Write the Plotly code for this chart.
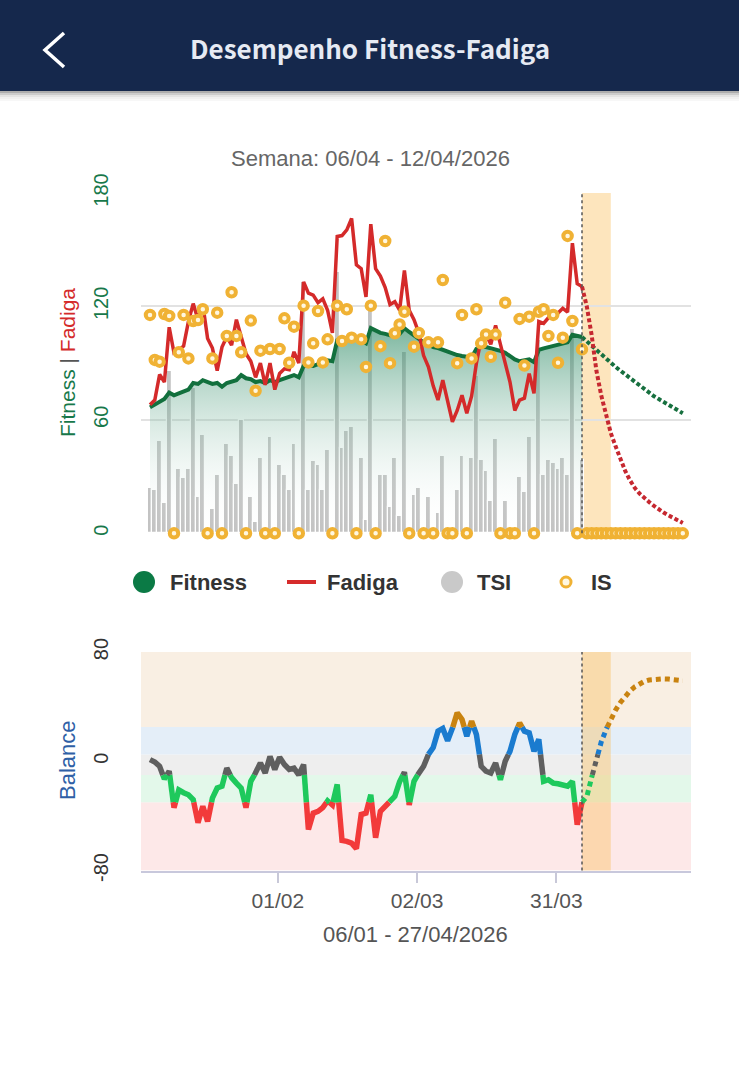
import pandas as pd
import plotly.graph_objects as go

W, H = 739, 1068


def px(x):
    return x / W


def py(y):
    return 1 - y / H


# ---------------- data ----------------
START = "2026-01-06"          # first day of the series (d0)
TODAY = "2026-04-06"          # last measured day / start of projection
WEEK_END = "2026-04-12"
RANGE_X = ["2026-01-04 03:00", "2026-04-28 17:00"]

tsi = [24, 23, 49, 16, 86, 0, 34, 29, 34, 77,
       19, 52, 0, 13, 31, 0, 47, 41, 26, 60,
       0, 19, 6, 40, 0, 51, 0, 36, 31, 23,
       47, 0, 133, 23, 38, 36, 23, 44, 0, 138,
       45, 54, 56, 0, 40, 7, 122, 0, 31, 31,
       14, 40, 9, 96, 0, 20, 24, 0, 19, 0,
       11, 41, 0, 0, 23, 41, 0, 40, 83, 39,
       33, 17, 50, 0, 17, 0, 0, 30, 22, 51,
       0, 102, 31, 39, 37, 34, 40, 31, 108, 0,
       39]

is_vals = [115.5, 91.7, 90.8, 116, 115, 0, 95.7, 115.5, 92.5, 112.3,
           112.8, 118.5, 0, 92.5, 116.7, 0, 104.4, 127.5, 104.4, 95.7,
           0, 112.5, 75.4, 96.6, 0, 97.5, 0, 97.5, 113.7, 90.2,
           109.3, 0, 120.4, 90.4, 100.5, 117.6, 90.4, 102.6, 0, 120.4,
           101.7, 118.5, 103.5, 0, 102.6, 88, 120.4, 0, 99, 154.6,
           90, 105.8, 110.5, 117.2, 0, 98.7, 106, 0, 101, 0,
           101, 134, 0, 0, 90, 115.5, 0, 92.5, 118.5, 100.5,
           105.2, 93.4, 105.2, 0, 122, 0, 0, 113.4, 88.7, 114.6,
           0, 117.2, 118.5, 104.4, 115.5, 90.2, 103.5, 157.3, 112.3, 0,
           97.3]

fitness = [66.6, 68, 69.5, 71, 74.4, 73, 74, 75, 76, 79.5,
           79, 81, 79.7, 79, 79.5, 77.5, 79.5, 80.5, 81, 83.7,
           82, 81.5, 80, 80.5, 79.5, 81, 80, 81, 82, 82.5,
           83.7, 82.5, 88.5, 89, 88.5, 89.5, 90, 91.5, 91, 102,
           102.5, 103.5, 105, 103.5, 101.5, 100.5, 108.5, 107, 106, 105.5,
           105, 104, 105.5, 108.5, 106.5, 104.5, 103, 101, 100, 98.5,
           98, 97, 96, 95, 94.3, 93.8, 93.4, 93, 97.5, 98.5,
           98.5, 98, 97.5, 96.5, 95.5, 93.5, 92, 91, 91.5, 92,
           90.5, 97, 97.8, 98.5, 99, 99.5, 100.2, 101, 105, 104.2,
           103.8]

fadiga = [68, 70.5, 84, 80, 109, 95.5, 97, 99, 112, 121.5,
          113, 121, 103, 98, 86, 98.5, 104, 99.5, 113, 104,
          95, 91, 82.5, 90, 78.5, 90, 76, 84.5, 87, 86.5,
          96, 90, 133, 127, 126, 122, 124, 118, 106, 157,
          157.5, 160.5, 166.5, 142, 140, 125, 163.5, 140, 136, 130,
          121, 122.5, 118, 139, 118, 113, 106, 94, 88, 78,
          70.5, 81, 70, 59, 65, 73, 63.5, 72.5, 90, 103,
          105, 100, 110, 99, 90, 80, 65, 70.5, 71.5, 84.5,
          74, 112, 111, 114, 115.5, 116.5, 119, 117, 153.5, 132,
          130.5]

balance = [1.2, -0.5, -3.7, -13, -7.3, -34, -21, -23, -24.5, -28,
           -45, -33, -44, -27, -19.6, -18.3, -5, -12, -16, -19.6,
           -34, -14.7, -8.6, -1.2, -8.6, 3.5, -6, 3, -2.4, -6,
           -5, -10, -2.4, -50, -38, -36.7, -34, -29, -32, -17,
           -58, -58.7, -60, -64, -39, -38, -24.5, -56, -36.7, -33,
           -29.4, -25.7, -15, -8, -32, -14.7, -8.6, -3.7, 5, 10,
           22, 24, 15, 24, 35.5, 30.6, 18.3, 29.4, 19.6, -3.7,
           -7.3, -8.6, -1.2, -13.5, 0, 7.3, 19.6, 28, 22, 20.8,
           7.3, 16, -14.7, -13.5, -16, -16.5, -17, -18.3, -14.7, -46.5,
           -30]

# projection, 06/04 .. 27/04
fitness_proj = [103.8, 101.5, 99, 96.5, 94.5, 92, 90, 88, 86, 84, 82,
                80, 78, 76.5, 74.5, 72.5, 71, 69.5, 68, 66.5, 65, 63.5]
fadiga_proj = [130.5, 120, 105, 86, 73, 62, 53, 46, 39, 33, 28,
               24, 21, 18.5, 16.5, 14.5, 12.5, 11, 9.5, 8, 6.5, 5.5]
balance_proj = [-30, -26, -12, 1, 14, 23, 31, 37.5, 43, 47.5, 51.5,
                54.5, 57, 58.5, 59.5, 60, 60.3, 60.3, 60.2, 60, 59.5, 59]
is_proj = [0, 0, 0, 0, 0, 0, 0, 0, 0, 0, 0,
           0, 0, 0, 0, 0, 0, 0, 0, 0, 0]

y_ticks_top = [0, 60, 120, 180]
y_ticks_bal = [-80, 0, 80]
x_tick_dates = ["2026-02-01 15:30", "2026-03-02 15:30", "2026-03-31 15:30"]
x_tick_text = ["01/02", "02/03", "31/03"]

# balance zones: (low, high, band colour, line colour)
ZONES = [(-80, -30, "#fde8e8", "#f23a3a"),
         (-30, -10, "#e3f8ea", "#1ec95c"),
         (-10, 5, "#eeeeee", "#5f5f5f"),
         (5, 25, "#e4eef8", "#1a7bcf"),
         (25, 80, "#f9efe3", "#c98310")]

# ---------------- helpers ----------------
FONT = "Liberation Sans, Arial, Helvetica, sans-serif"
start_ts = pd.Timestamp(START)
dates = pd.date_range(START, periods=len(fitness), freq="D")
proj_dates = pd.date_range(TODAY, periods=len(fitness_proj), freq="D")
day0 = len(fitness) - 1


def to_date(d):
    return None if d is None else start_ts + pd.to_timedelta(d, unit="D")


def zone_index(v):
    for i, (lo, hi, _, _) in enumerate(ZONES):
        if v < hi:
            return i
    return len(ZONES) - 1


def split_by_zone(days, vals):
    edges = [z[1] for z in ZONES[:-1]]
    out = {k: ([], []) for k in range(len(ZONES))}
    last = {k: None for k in range(len(ZONES))}
    for i in range(len(days) - 1):
        x0, y0, x1, y1 = days[i], vals[i], days[i + 1], vals[i + 1]
        cuts = sorted((e - y0) / (y1 - y0) for e in edges if (y0 - e) * (y1 - e) < 0)
        ts = [0.0] + cuts + [1.0]
        for a, b in zip(ts[:-1], ts[1:]):
            pa = (x0 + a * (x1 - x0), y0 + a * (y1 - y0))
            pb = (x0 + b * (x1 - x0), y0 + b * (y1 - y0))
            z = zone_index((pa[1] + pb[1]) / 2)
            xs, ys = out[z]
            lp = last[z]
            if lp is None or abs(lp[0] - pa[0]) > 1e-6 or abs(lp[1] - pa[1]) > 1e-6:
                if xs:
                    xs.append(None)
                    ys.append(None)
                xs.append(pa[0])
                ys.append(pa[1])
            xs.append(pb[0])
            ys.append(pb[1])
            last[z] = pb
    return out


fig = go.Figure()

# ---------------- top chart ----------------
fig.add_trace(go.Bar(
    x=dates, y=[v if v > 0 else None for v in tsi],
    width=86400000 * 1.0,
    marker=dict(color="#c3c3c3", line=dict(color="white", width=1.2)),
    xaxis="x", yaxis="y", showlegend=False, hoverinfo="skip"))

fig.add_trace(go.Scatter(
    x=dates, y=fitness, mode="lines", line=dict(width=0),
    fill="tozeroy",
    fillgradient=dict(type="vertical", start=0, stop=108,
                      colorscale=[[0, "rgba(255,255,255,0)"],
                                  [1, "rgba(30,130,90,0.58)"]]),
    xaxis="x", yaxis="y", showlegend=False, hoverinfo="skip"))

fig.add_trace(go.Scatter(
    x=dates, y=fitness, mode="lines", line=dict(color="#12703d", width=4),
    xaxis="x", yaxis="y", showlegend=False))
fig.add_trace(go.Scatter(
    x=dates, y=fadiga, mode="lines", line=dict(color="#d42a2a", width=3.5),
    xaxis="x", yaxis="y", showlegend=False))
fig.add_trace(go.Scatter(
    x=proj_dates, y=fitness_proj, mode="lines",
    line=dict(color="#17703f", width=4, dash="4px,2.5px"),
    xaxis="x", yaxis="y", showlegend=False))
fig.add_trace(go.Scatter(
    x=proj_dates, y=fadiga_proj, mode="lines",
    line=dict(color="#c62830", width=4, dash="4px,2.5px"),
    xaxis="x", yaxis="y", showlegend=False))

is_x = list(dates) + list(proj_dates[1:])
is_y = list(is_vals) + list(is_proj)
fig.add_trace(go.Scatter(
    x=is_x, y=is_y, mode="markers", cliponaxis=False,
    marker=dict(symbol="circle", size=8.5, color="#fff7e0",
                line=dict(color="#f0b234", width=4)),
    xaxis="x", yaxis="y", showlegend=False))

# ---------------- balance chart ----------------
solid = split_by_zone(list(range(len(balance))), balance)
dotted = split_by_zone(list(range(day0, day0 + len(balance_proj))), balance_proj)
for k, (lo, hi, band, col) in enumerate(ZONES):
    xs, ys = solid[k]
    if xs:
        fig.add_trace(go.Scatter(
            x=[to_date(v) for v in xs], y=ys, mode="lines",
            line=dict(color=col, width=5.5), connectgaps=False,
            xaxis="x2", yaxis="y2", showlegend=False))
for k, (lo, hi, band, col) in enumerate(ZONES):
    xs, ys = dotted[k]
    if xs:
        fig.add_trace(go.Scatter(
            x=[to_date(v) for v in xs], y=ys, mode="lines",
            line=dict(color=col, width=5, dash="5px,4px"), connectgaps=False,
            xaxis="x2", yaxis="y2", showlegend=False))

# ---------------- shapes ----------------
shapes = []
for lo, hi, band, col in ZONES:
    shapes.append(dict(type="rect", xref="x2 domain", x0=0, x1=1, yref="y2",
                       y0=lo, y1=hi, fillcolor=band, line=dict(width=0), layer="below"))
shapes.append(dict(type="rect", xref="x", x0=TODAY, x1=WEEK_END, yref="y domain",
                   y0=0, y1=1, fillcolor="rgba(250,190,90,0.4)", line=dict(width=0),
                   layer="below"))
shapes.append(dict(type="rect", xref="x2", x0=TODAY, x1=WEEK_END, yref="y2 domain",
                   y0=0, y1=1, fillcolor="rgba(250,190,90,0.4)", line=dict(width=0),
                   layer="below"))
for xr, yr in (("x", "y domain"), ("x2", "y2 domain")):
    shapes.append(dict(type="line", xref=xr, x0=TODAY, x1=TODAY, yref=yr, y0=0, y1=1,
                       line=dict(color="#555555", width=1.5, dash="dot"), layer="above"))

# header
shapes.append(dict(type="rect", xref="paper", yref="paper", x0=0, x1=1,
                   y0=py(91), y1=1, fillcolor="#15284c", line=dict(width=0), layer="above"))
for i, a in enumerate([0.32, 0.2, 0.11, 0.06, 0.03]):
    shapes.append(dict(type="rect", xref="paper", yref="paper", x0=0, x1=1,
                       y0=py(91 + 2 * (i + 1)), y1=py(91 + 2 * i),
                       fillcolor=f"rgba(0,0,0,{a})", line=dict(width=0), layer="above"))
shapes.append(dict(type="path", xref="paper", yref="paper",
                   path=f"M {px(64)} {py(33)} L {px(45)} {py(50)} L {px(64)} {py(67)}",
                   line=dict(color="white", width=3.5), layer="above"))

# legend symbols
shapes.append(dict(type="circle", xref="paper", yref="paper",
                   x0=px(133), x1=px(155), y0=py(593), y1=py(571),
                   fillcolor="#0b7a45", line=dict(width=0)))
shapes.append(dict(type="line", xref="paper", yref="paper",
                   x0=px(287), x1=px(316), y0=py(582), y1=py(582),
                   line=dict(color="#d62b2b", width=4)))
shapes.append(dict(type="circle", xref="paper", yref="paper",
                   x0=px(441), x1=px(463), y0=py(593), y1=py(571),
                   fillcolor="#c9c9c9", line=dict(width=0)))
shapes.append(dict(type="circle", xref="paper", yref="paper",
                   x0=px(561), x1=px(571), y0=py(587), y1=py(577),
                   fillcolor="#fff7e0", line=dict(color="#f0b234", width=3)))

# ---------------- annotations ----------------
ann = []
ann.append(dict(xref="paper", yref="paper", x=px(369.5), y=py(47),
                text="<b>Desempenho Fitness-Fadiga</b>", showarrow=False,
                font=dict(family="Noto Sans CJK JP, Liberation Sans, sans-serif",
                          size=26, color="#e6eaf3"),
                xanchor="center", yanchor="middle"))
ann.append(dict(xref="paper", yref="paper", x=px(370), y=py(158),
                text="Semana: 06/04 - 12/04/2026", showarrow=False,
                font=dict(family=FONT, size=22, color="#666666"),
                xanchor="center", yanchor="middle"))
ann.append(dict(xref="paper", yref="paper", x=px(67), y=py(363), textangle=-90,
                text="<span style='color:#17784a'>Fitness</span>"
                     "<span style='color:#555555'> | </span>"
                     "<span style='color:#d42a2a'>Fadiga</span>",
                showarrow=False, font=dict(family=FONT, size=21),
                xanchor="center", yanchor="middle"))
ann.append(dict(xref="paper", yref="paper", x=px(67), y=py(760), textangle=-90,
                text="Balance", showarrow=False,
                font=dict(family=FONT, size=22, color="#2f5fa6"),
                xanchor="center", yanchor="middle"))
ann.append(dict(xref="paper", yref="paper", x=px(415), y=py(934),
                text="06/01 - 27/04/2026", showarrow=False,
                font=dict(family=FONT, size=22, color="#555555"),
                xanchor="center", yanchor="middle"))
for label, xl in (("Fitness", 168), ("Fadiga", 325), ("TSI", 475), ("IS", 589)):
    ann.append(dict(xref="paper", yref="paper", x=px(xl), y=py(582),
                    text=f"<b>{label}</b>", showarrow=False,
                    font=dict(family=FONT, size=22, color="#333333"),
                    xanchor="left", yanchor="middle"))

XDOM = [px(141), px(691)]
fig.update_layout(
    width=W, height=H,
    margin=dict(l=0, r=0, t=0, b=0, pad=0, autoexpand=False),
    paper_bgcolor="white", plot_bgcolor="rgba(0,0,0,0)",
    showlegend=False, bargap=0,
    font=dict(family=FONT),
    shapes=shapes, annotations=ann,
    xaxis=dict(domain=XDOM, anchor="y", type="date", range=RANGE_X,
               visible=False, showgrid=False, fixedrange=True, automargin=False),
    yaxis=dict(domain=[py(533.3), py(193)], anchor="x", range=[0, 180],
               tickvals=y_ticks_top, ticktext=[str(v) for v in y_ticks_top],
               tickangle=-90, tickfont=dict(size=20, color="#17784a", family=FONT),
               showgrid=True, gridcolor="#e2e2e2", gridwidth=1.5,
               zeroline=False, showline=False, ticks="", ticklabelstandoff=28,
               automargin=False),
    xaxis2=dict(domain=XDOM, anchor="y2", type="date", range=RANGE_X,
                tickvals=x_tick_dates, ticktext=x_tick_text,
                tickfont=dict(size=21, color="#555555", family=FONT),
                ticks="outside", ticklen=10, tickwidth=1.5, tickcolor="#c8c8d8",
                showline=True, linecolor="#c8c8dc", linewidth=2,
                showgrid=False, zeroline=False, automargin=False),
    yaxis2=dict(domain=[py(870.5), py(652)], anchor="x2", range=[-80, 80],
                tickvals=y_ticks_bal, ticktext=[str(v) for v in y_ticks_bal],
                tickangle=-90, tickfont=dict(size=20, color="#333333", family=FONT),
                showgrid=False, zeroline=False, showline=False, ticks="",
                ticklabelstandoff=28, automargin=False),
)

fig.write_html("out.html")
